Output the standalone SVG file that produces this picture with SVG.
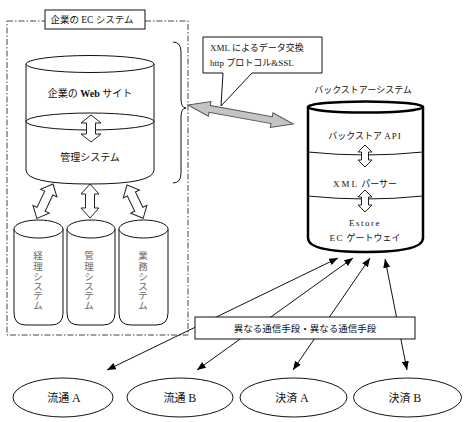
<svg xmlns="http://www.w3.org/2000/svg" width="465" height="422" viewBox="0 0 465 422">
<style>
text{font-family:"Liberation Serif","Noto Sans CJK JP",serif;fill:#111}
.ln{fill:none;stroke:#111;stroke-width:1}
.wf{fill:#fff;stroke:#111;stroke-width:1}
.hol{fill:#fff;stroke:#222;stroke-width:1}
.gray{fill:#c4c4c4;stroke:#555;stroke-width:1}
.thick{fill:#fff;stroke:#000;stroke-width:2.5}
.con{stroke:#111;stroke-width:1;fill:none;marker-start:url(#ah);marker-end:url(#ah)}
.sm{font-size:9.5px;fill:#666;text-anchor:middle}
.c{text-anchor:middle}
</style>
<defs>
<marker id="ah" viewBox="0 0 10 8" refX="10" refY="4" markerWidth="9" markerHeight="7" markerUnits="userSpaceOnUse" orient="auto-start-reverse">
<path d="M0,0 L10,4 L0,8 Z" fill="#000"/>
</marker>
</defs>
<rect width="465" height="422" fill="#fff"/>

<g id="ec-frame">
<rect x="7" y="21" width="181" height="314" fill="none" stroke="#444" stroke-width="1" stroke-dasharray="6,2,1.5,2"/>
<rect x="45" y="10" width="100" height="19" class="wf"/>
<text x="92" y="23" class="c" font-size="9.5">企業の EC システム</text>
</g>

<g id="web-cylinder">
<path d="M26,64 V170 Q26,184 90,184 Q154,184 154,170 V64" class="wf"/>
<ellipse cx="90" cy="64" rx="64" ry="8.5" class="wf"/>
<ellipse cx="90" cy="121.5" rx="64" ry="8.5" class="ln"/>
<text x="90" y="97" class="c" font-size="10">企業の <tspan font-weight="bold">Web</tspan> サイト</text>
<text x="90" y="161" class="c" font-size="10">管理システム</text>
</g>

<path id="brace" d="M173,42 Q181,42 181,52 L181,99 Q181,108 186,108 Q181,108 181,117 L181,173 Q181,183 173,183" class="ln"/>

<g id="keiri">
<path d="M14,229 V313 Q14,325 26,325 H51 Q63,325 63,313 V229" class="wf"/>
<ellipse cx="38.5" cy="229" rx="24.5" ry="9" class="wf"/>
<text class="sm"><tspan x="38" y="259">経</tspan><tspan x="38" dy="11">理</tspan><tspan x="38" dy="10">シ</tspan><tspan x="38" dy="9.5">ス</tspan><tspan x="38" dy="9.5">テ</tspan><tspan x="38" dy="9.5">ム</tspan></text>
</g>
<g id="kanri">
<path d="M67,229 V313 Q67,325 79,325 H103 Q115,325 115,313 V229" class="wf"/>
<ellipse cx="91" cy="229" rx="24" ry="9" class="wf"/>
<text class="sm"><tspan x="89" y="259">管</tspan><tspan x="89" dy="11">理</tspan><tspan x="89" dy="10">シ</tspan><tspan x="89" dy="9.5">ス</tspan><tspan x="89" dy="9.5">テ</tspan><tspan x="89" dy="9.5">ム</tspan></text>
</g>
<g id="gyomu">
<path d="M119,229 V313 Q119,325 131,325 H156 Q168,325 168,313 V229" class="wf"/>
<ellipse cx="143.5" cy="229" rx="24.5" ry="9" class="wf"/>
<text class="sm"><tspan x="143" y="259">業</tspan><tspan x="143" dy="11">務</tspan><tspan x="143" dy="10">シ</tspan><tspan x="143" dy="9.5">ス</tspan><tspan x="143" dy="9.5">テ</tspan><tspan x="143" dy="9.5">ム</tspan></text>
</g>

<g id="callout">
<path d="M203,37 H322 V73 H252 L221,106 L223,73 H203 Z" class="wf" stroke="#444"/>
<text x="210" y="51" font-size="9">XML によるデータ交換</text>
<text x="210" y="66" font-size="9">http プロトコル&amp;SSL</text>
</g>

<g id="backstore">
<text x="363" y="93" class="c" font-size="9">バックストアーシステム</text>
<path d="M308,107 V238 Q308,252 365.5,252 Q423,252 423,238 V107" class="thick"/>
<ellipse cx="365.5" cy="107" rx="57.5" ry="5.5" class="thick"/>
<path d="M308,152 Q365.5,158 423,152" class="ln"/>
<path d="M308,196 Q365.5,202 423,196" class="ln"/>
<text x="365" y="139" class="c" font-size="9">バックストア <tspan letter-spacing="1">API</tspan></text>
<text x="365" y="187" class="c" font-size="9"><tspan letter-spacing="2">XML</tspan> パーサー</text>
<text x="365" y="226" class="c" font-size="9" letter-spacing="1.5">Estore</text>
<text x="365" y="241" class="c" font-size="9"><tspan letter-spacing="1.5">EC</tspan> ゲートウェイ</text>
</g>

<g id="connectors">
<polygon points="0,0 8,-10 8,-4.5 19,-4.5 19,-10 27,0 19,10 19,4.5 8,4.5 8,10" class="hol" transform="translate(91,115) rotate(90)"/>
<polygon points="0,0 10,-9 10,-4.5 24,-4.5 24,-9 34,0 24,9 24,4.5 10,4.5 10,9" class="hol" transform="translate(90,184) rotate(90)"/>
<polygon points="0,0 10,-9 10,-4.5 28,-4.5 28,-9 38,0 28,9 28,4.5 10,4.5 10,9" class="hol" transform="translate(53,184) rotate(115.2)"/>
<polygon points="0,0 10,-9 10,-4.5 27,-4.5 27,-9 37,0 27,9 27,4.5 10,4.5 10,9" class="hol" transform="translate(127,185) rotate(64.1)"/>
<polygon points="0,0 7,-7 7,-3.5 15,-3.5 15,-7 22,0 15,7 15,3.5 7,3.5 7,7" class="hol" transform="translate(365,145) rotate(90)"/>
<polygon points="0,0 7,-7 7,-3.5 15,-3.5 15,-7 22,0 15,7 15,3.5 7,3.5 7,7" class="hol" transform="translate(365,190) rotate(90)"/>
<polygon points="0,0 22,-7.5 22,-3.5 85,-3.5 85,-7.5 107,0 85,7.5 85,3.5 22,3.5 22,7.5" class="gray" transform="translate(188,105) rotate(10.26)"/>
<line x1="107" y1="370" x2="338" y2="258" class="con"/>
<line x1="197" y1="370" x2="353" y2="258" class="con"/>
<line x1="293" y1="370" x2="370" y2="258" class="con"/>
<line x1="407" y1="370" x2="385" y2="259" class="con"/>
</g>

<g id="means-label">
<rect x="195" y="317" width="220" height="22" class="wf"/>
<text x="305" y="332" class="c" font-size="9.5">異なる通信手段・異なる通信手段</text>
</g>

<g id="ryutsu-a">
<ellipse cx="63" cy="397.5" rx="50" ry="19.5" class="wf"/>
<text x="64" y="401.5" class="c" font-size="11">流通 <tspan font-size="12">A</tspan></text>
</g>
<g id="ryutsu-b">
<ellipse cx="180" cy="397.5" rx="53" ry="19.5" class="wf"/>
<text x="180" y="401.5" class="c" font-size="11">流通 <tspan font-size="12">B</tspan></text>
</g>
<g id="kessai-a">
<ellipse cx="293.5" cy="397.5" rx="53.5" ry="19.5" class="wf"/>
<text x="292" y="401.5" class="c" font-size="11">決済 <tspan font-size="12">A</tspan></text>
</g>
<g id="kessai-b">
<ellipse cx="407.5" cy="397.5" rx="54" ry="19.5" class="wf"/>
<text x="405" y="401.5" class="c" font-size="11">決済 <tspan font-size="12">B</tspan></text>
</g>
</svg>
